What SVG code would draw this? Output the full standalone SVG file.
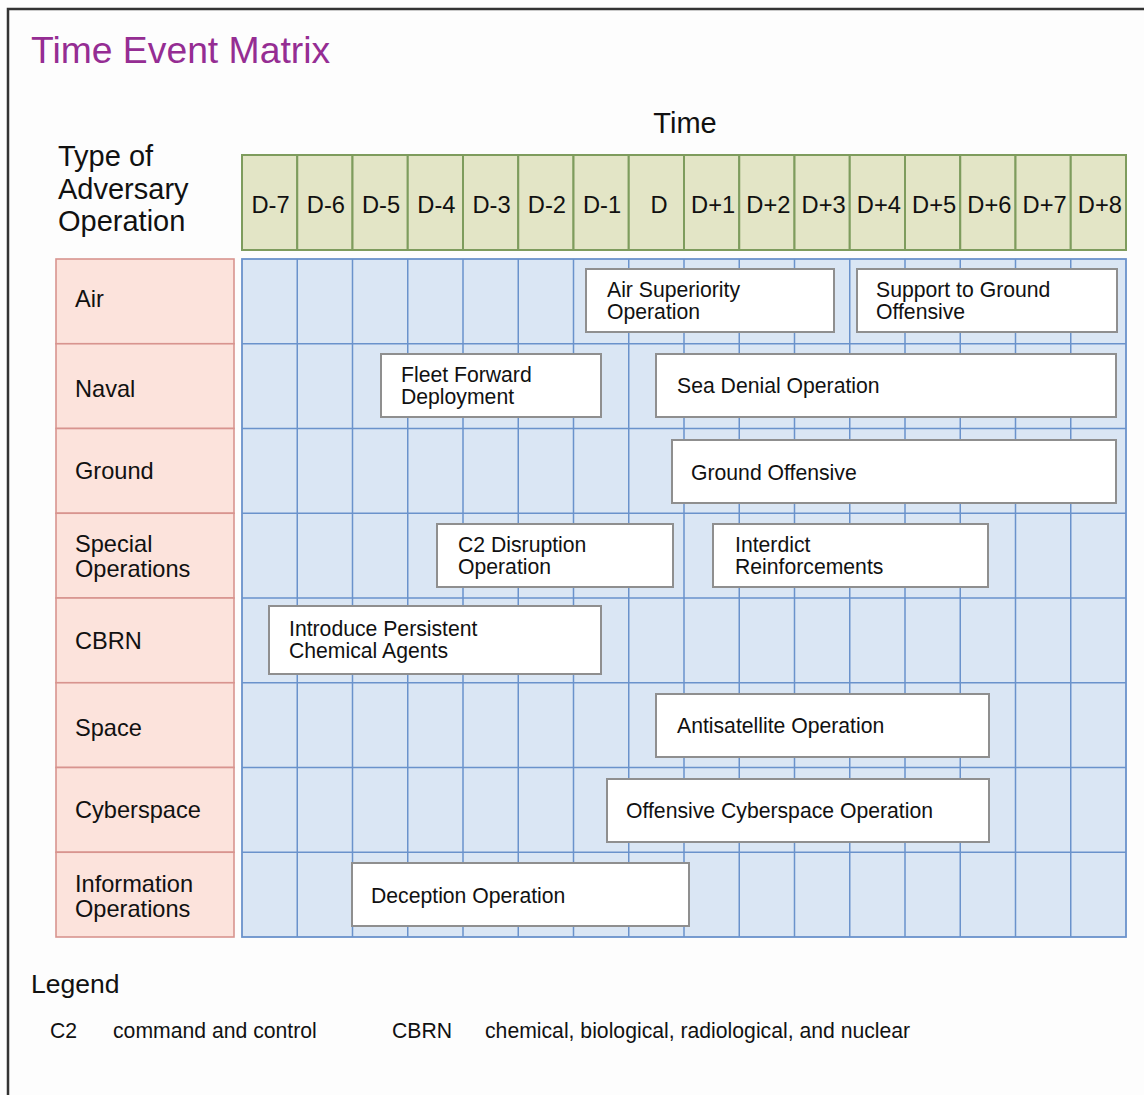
<svg xmlns="http://www.w3.org/2000/svg" width="1144" height="1095" viewBox="0 0 1144 1095">
  <style>
    text { font-family: "Liberation Sans", Arial, sans-serif; fill: #111; }
    .title { font-size: 37.3px; fill: #952d93; }
    .head { font-size: 29px; }
    .col { fill: #e3e5c6; stroke: #7e9c5d; stroke-width: 2; }
    .colt { font-size: 23.7px; text-anchor: middle; }
    .row { fill: #fce3dc; stroke: #d8948f; stroke-width: 1.6; }
    .rowt { font-size: 23.6px; }
    .grid { fill: #dae6f4; stroke: #6a92cb; stroke-width: 1.8; }
    .gl { stroke: #6a92cb; stroke-width: 1.5; fill: none; }
    .ev { fill: #ffffff; stroke: #8f8f8f; stroke-width: 2; }
    .evt { font-size: 21.2px; }
    .leg { font-size: 26.5px; }
    .legt { font-size: 21.2px; }
  </style>

  <!-- page background and frame -->
  <rect x="0" y="0" width="1144" height="1095" fill="#fdfdfd"/>
  <rect x="8" y="9" width="1300" height="1300" fill="none" stroke="#333" stroke-width="2.5"/>

  <text class="title" x="31" y="63">Time Event Matrix</text>
  <text class="head" x="685" y="133" text-anchor="middle">Time</text>
  <text class="head" x="58" y="166">Type of</text>
  <text class="head" x="58" y="199">Adversary</text>
  <text class="head" x="58" y="231">Operation</text>

  <!-- time axis -->
  <g id="time-axis">
    <g id="col-d-7"><rect class="col" x="242" y="155" width="55.25" height="95"/><text class="colt" x="270.6" y="213">D-7</text></g>
    <g id="col-d-6"><rect class="col" x="297.25" y="155" width="55.25" height="95"/><text class="colt" x="325.9" y="213">D-6</text></g>
    <g id="col-d-5"><rect class="col" x="352.5" y="155" width="55.25" height="95"/><text class="colt" x="381.1" y="213">D-5</text></g>
    <g id="col-d-4"><rect class="col" x="407.75" y="155" width="55.25" height="95"/><text class="colt" x="436.4" y="213">D-4</text></g>
    <g id="col-d-3"><rect class="col" x="463" y="155" width="55.25" height="95"/><text class="colt" x="491.6" y="213">D-3</text></g>
    <g id="col-d-2"><rect class="col" x="518.25" y="155" width="55.25" height="95"/><text class="colt" x="546.9" y="213">D-2</text></g>
    <g id="col-d-1"><rect class="col" x="573.5" y="155" width="55.25" height="95"/><text class="colt" x="602.1" y="213">D-1</text></g>
    <g id="col-d"><rect class="col" x="628.75" y="155" width="55.25" height="95"/><text class="colt" x="659" y="213">D</text></g>
    <g id="col-d+1"><rect class="col" x="684" y="155" width="55.25" height="95"/><text class="colt" x="713.1" y="213">D+1</text></g>
    <g id="col-d+2"><rect class="col" x="739.25" y="155" width="55.25" height="95"/><text class="colt" x="768.4" y="213">D+2</text></g>
    <g id="col-d+3"><rect class="col" x="794.5" y="155" width="55.25" height="95"/><text class="colt" x="823.6" y="213">D+3</text></g>
    <g id="col-d+4"><rect class="col" x="849.75" y="155" width="55.25" height="95"/><text class="colt" x="878.9" y="213">D+4</text></g>
    <g id="col-d+5"><rect class="col" x="905" y="155" width="55.25" height="95"/><text class="colt" x="934.1" y="213">D+5</text></g>
    <g id="col-d+6"><rect class="col" x="960.25" y="155" width="55.25" height="95"/><text class="colt" x="989.4" y="213">D+6</text></g>
    <g id="col-d+7"><rect class="col" x="1015.5" y="155" width="55.25" height="95"/><text class="colt" x="1044.6" y="213">D+7</text></g>
    <g id="col-d+8"><rect class="col" x="1070.75" y="155" width="55.25" height="95"/><text class="colt" x="1099.9" y="213">D+8</text></g>
  </g>

  <!-- operation types -->
  <g id="op-types">
    <g id="row-air"><rect class="row" x="56" y="259" width="178" height="84.75"/><text class="rowt" x="75" y="307">Air</text></g>
    <g id="row-naval"><rect class="row" x="56" y="343.75" width="178" height="84.75"/><text class="rowt" x="75" y="397">Naval</text></g>
    <g id="row-ground"><rect class="row" x="56" y="428.5" width="178" height="84.75"/><text class="rowt" x="75" y="479">Ground</text></g>
    <g id="row-special"><rect class="row" x="56" y="513.25" width="178" height="84.75"/><text class="rowt" x="75" y="551.5">Special</text><text class="rowt" x="75" y="576.5">Operations</text></g>
    <g id="row-cbrn"><rect class="row" x="56" y="598" width="178" height="84.75"/><text class="rowt" x="75" y="649">CBRN</text></g>
    <g id="row-space"><rect class="row" x="56" y="682.75" width="178" height="84.75"/><text class="rowt" x="75" y="736">Space</text></g>
    <g id="row-cyber"><rect class="row" x="56" y="767.5" width="178" height="84.75"/><text class="rowt" x="75" y="818">Cyberspace</text></g>
    <g id="row-info"><rect class="row" x="56" y="852.25" width="178" height="84.75"/><text class="rowt" x="75" y="891.5">Information</text><text class="rowt" x="75" y="916.5">Operations</text></g>
  </g>

  <!-- matrix grid -->
  <g id="matrix">
    <rect class="grid" x="242" y="259" width="884" height="678"/>
    <path class="gl" d="M297.25 259V937M352.5 259V937M407.75 259V937M463 259V937M518.25 259V937M573.5 259V937M628.75 259V937M684 259V937M739.25 259V937M794.5 259V937M849.75 259V937M905 259V937M960.25 259V937M1015.5 259V937M1070.75 259V937"/>
    <path class="gl" d="M242 343.75H1126M242 428.5H1126M242 513.25H1126M242 598H1126M242 682.75H1126M242 767.5H1126M242 852.25H1126"/>
  </g>

  <!-- no connectors in this chart -->
  <g id="connectors"/>

  <!-- events -->
  <g id="ev-air-superiority"><rect class="ev" x="586" y="269" width="248" height="63"/><text class="evt" x="607" y="296.5">Air Superiority</text><text class="evt" x="607" y="318.5">Operation</text></g>
  <g id="ev-support-ground"><rect class="ev" x="857" y="269" width="260" height="63"/><text class="evt" x="876" y="296.5">Support to Ground</text><text class="evt" x="876" y="318.5">Offensive</text></g>
  <g id="ev-fleet-forward"><rect class="ev" x="381" y="354" width="220" height="63"/><text class="evt" x="401" y="381.5">Fleet Forward</text><text class="evt" x="401" y="403.5">Deployment</text></g>
  <g id="ev-sea-denial"><rect class="ev" x="656" y="354" width="460" height="63"/><text class="evt" x="677" y="393">Sea Denial Operation</text></g>
  <g id="ev-ground-offensive"><rect class="ev" x="672" y="440" width="444" height="63"/><text class="evt" x="691" y="480">Ground Offensive</text></g>
  <g id="ev-c2-disruption"><rect class="ev" x="437" y="524" width="236" height="63"/><text class="evt" x="458" y="551.5">C2 Disruption</text><text class="evt" x="458" y="573.5">Operation</text></g>
  <g id="ev-interdict"><rect class="ev" x="713" y="524" width="275" height="63"/><text class="evt" x="735" y="552">Interdict</text><text class="evt" x="735" y="574">Reinforcements</text></g>
  <g id="ev-chemical"><rect class="ev" x="269" y="606" width="332" height="68"/><text class="evt" x="289" y="635.5">Introduce Persistent</text><text class="evt" x="289" y="657.5">Chemical Agents</text></g>
  <g id="ev-antisatellite"><rect class="ev" x="656" y="694" width="333" height="63"/><text class="evt" x="677" y="733">Antisatellite Operation</text></g>
  <g id="ev-offensive-cyber"><rect class="ev" x="607" y="779" width="382" height="63"/><text class="evt" x="626" y="818">Offensive Cyberspace Operation</text></g>
  <g id="ev-deception"><rect class="ev" x="352" y="863" width="337" height="63"/><text class="evt" x="371" y="903">Deception Operation</text></g>

  <!-- legend -->
  <g id="legend">
    <text class="leg" x="31" y="993">Legend</text>
    <text class="legt" x="50" y="1038">C2</text>
    <text class="legt" x="113" y="1038">command and control</text>
    <text class="legt" x="392" y="1038">CBRN</text>
    <text class="legt" x="485" y="1038">chemical, biological, radiological, and nuclear</text>
  </g>
</svg>
